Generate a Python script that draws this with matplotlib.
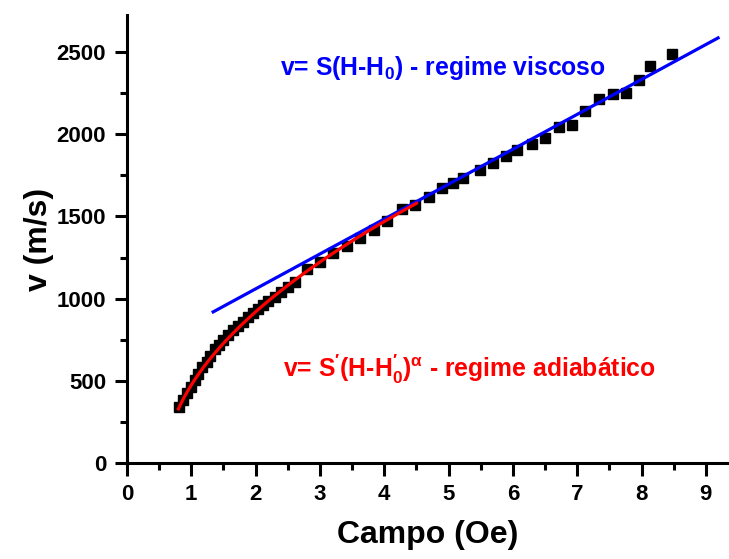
import numpy as np
import matplotlib.pyplot as plt

plt.rcParams['font.family'] = ['Liberation Sans', 'DejaVu Sans']
plt.rcParams['font.weight'] = 'bold'
plt.rcParams['mathtext.fontset'] = 'custom'
plt.rcParams['mathtext.rm'] = 'Liberation Sans:bold'
plt.rcParams['mathtext.it'] = 'Liberation Sans'
plt.rcParams['mathtext.bf'] = 'Liberation Sans:bold'

# measured points
campo = [0.81, 0.875, 0.93, 0.995, 1.06, 1.11, 1.16, 1.24, 1.29, 1.37, 1.43,
         1.50, 1.575, 1.65, 1.73, 1.81, 1.885, 1.96, 2.04, 2.12, 2.20, 2.30,
         2.40, 2.51, 2.61, 2.80, 3.00, 3.20, 3.42, 3.62, 3.84, 4.04, 4.27,
         4.48, 4.70, 4.90, 5.07, 5.22, 5.49, 5.69, 5.89, 6.06, 6.30, 6.50,
         6.72, 6.92, 7.12, 7.34, 7.56, 7.76, 7.96, 8.13, 8.47]
v = [343, 383, 424, 464, 505, 541, 582, 616, 651, 692, 718,
     748, 779, 809, 833, 860, 886, 910, 935, 961, 987, 1012,
     1042, 1072, 1103, 1180, 1223, 1277, 1320, 1369, 1417, 1472, 1545,
     1569, 1618, 1673, 1703, 1734, 1782, 1825, 1867, 1904, 1940, 1977,
     2044, 2056, 2141, 2214, 2244, 2251, 2330, 2415, 2488]

# fit parameters
S_visc, H0_visc = 212.3, -2.99
visc_range = (1.34, 9.19)
S_adi, H0_adi, alpha = 770.0, 0.6, 0.528
adi_range = (0.8, 4.5)

fig = plt.figure(figsize=(7.29, 5.59), dpi=100)
ax = fig.add_axes([0.1742, 0.1717, 0.8258, 0.8014])

ax.plot(campo, v, 's', color='black', ms=7, zorder=2)

h1 = np.linspace(*visc_range, 50)
ax.plot(h1, S_visc * (h1 - H0_visc), color='#0000ff', lw=2.3, zorder=3)

h2 = np.linspace(*adi_range, 200)
ax.plot(h2, S_adi * (h2 - H0_adi) ** alpha, color='#ff0000', lw=2.3, zorder=3)

ax.text(2.38, 2400, r"v= S(H-H$_0$) - regime viscoso", color='#0000ff',
        fontsize=17.8, fontweight='bold', va='center')
ax.text(2.42, 570, r"v= S$^{\prime}$(H-H$^{\prime}_0$)$^{\alpha}$ - regime adiabático",
        color='#ff0000', fontsize=17.8, fontweight='bold', va='center')

ax.set_xlim(0, 9.36)
ax.set_ylim(0, 2725)
ax.set_xticks(range(0, 10))
ax.set_xticks(np.arange(0.5, 9.4, 1.0), minor=True)
ax.set_yticks(range(0, 2501, 500))
ax.set_yticks(range(250, 2700, 500), minor=True)

for s in ['top', 'right']:
    ax.spines[s].set_visible(False)
for s in ['left', 'bottom']:
    ax.spines[s].set_linewidth(2.2)
ax.tick_params(which='major', length=9, width=2.2, labelsize=16, direction='out', pad=6)
ax.tick_params(which='minor', length=5, width=2.2, direction='out')
for lab in ax.get_xticklabels() + ax.get_yticklabels():
    lab.set_fontweight('bold')

ax.set_xlabel('Campo (Oe)', fontsize=23, fontweight='bold', labelpad=11)
ax.set_ylabel('v (m/s)', fontsize=23, fontweight='bold', labelpad=2)

fig.savefig('out.png', dpi=100)
